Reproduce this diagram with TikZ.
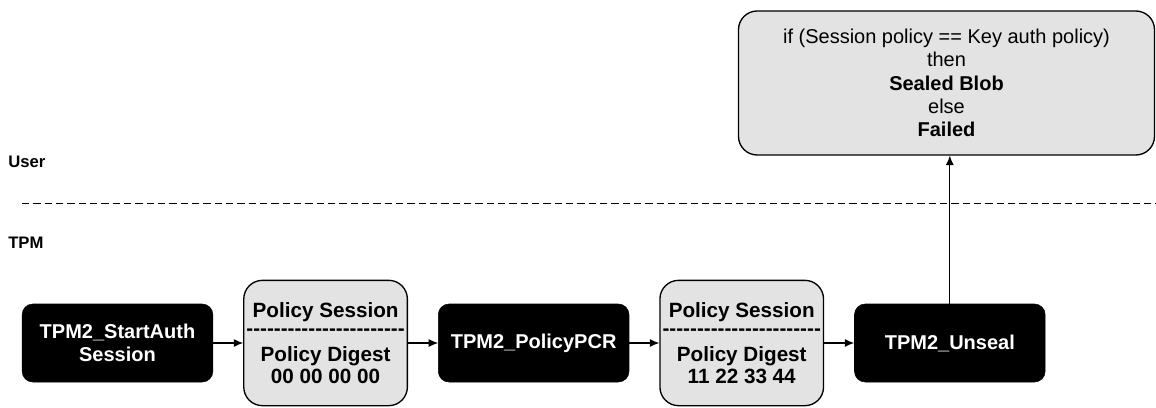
\documentclass[tikz,border=0pt]{standalone}
\usepackage{fontspec}
\setmainfont{Liberation Sans}
\usetikzlibrary{positioning,arrows.meta}
\tikzstyle{cmdnode}=[rectangle, rounded corners=8pt, fill=black, draw=black, text=white, font=\bfseries\fontsize{15}{17}\selectfont, align=center, minimum width=143pt, minimum height=58.5pt, inner sep=2pt]
\tikzstyle{sessnode}=[rectangle, rounded corners=14pt, fill=black!11, draw=black, line width=1pt, font=\bfseries\fontsize{15.5}{17}\selectfont, align=center, minimum width=122pt, minimum height=94pt, inner sep=2pt]
\tikzstyle{resnode}=[rectangle, rounded corners=14pt, fill=black!11, draw=black, line width=1pt, font=\fontsize{15}{17.5}\selectfont, align=center, minimum width=312pt, minimum height=108pt]
\tikzstyle{layer}=[font=\bfseries\fontsize{12.5}{14}\selectfont, anchor=west, inner sep=0pt]
\newcommand{\dashrow}{\foreach \i in {1,...,23}{-}}

\begin{document}
\begin{tikzpicture}[x=0.75pt, y=-0.75pt, node distance=22.5pt]
\useasboundingbox (0,0) rectangle (1156,407);
%Nodes
\node[cmdnode]     (start)   at (117.5,343)       {TPM2\_StartAuth\\Session};
\node[sessnode]    (sess1)   [right=of start]     {Policy Session\\[-3pt]\dashrow\\[2pt]Policy Digest\\00 00 00 00};
\node[cmdnode]     (pcr)     [right=of sess1]     {TPM2\_PolicyPCR};
\node[sessnode]    (sess2)   [right=of pcr]       {Policy Session\\[-3pt]\dashrow\\[2pt]Policy Digest\\11 22 33 44};
\node[cmdnode]     (unseal)  [right=of sess2]     {TPM2\_Unseal};
\node[resnode]     (result)  at (946.5,83)        {if (Session policy == Key auth policy)\\then\\\textbf{Sealed Blob}\\else\\\textbf{Failed}};
\node[layer]       (user)    at (8,162)           {User};
\node[layer]       (tpm)     at (8,243)           {TPM};
\coordinate (lineL) at (22,203);
\coordinate (lineR) at (1156,203);
%Lines
\draw[dash pattern=on 5.5pt off 3pt, line width=0.75pt] (lineL) -- (lineR);
\draw[-{Latex[length=7pt,width=6pt]}, line width=0.8pt] (start) -- (sess1);
\draw[-{Latex[length=7pt,width=6pt]}, line width=0.8pt] (sess1) -- (pcr);
\draw[-{Latex[length=7pt,width=6pt]}, line width=0.8pt] (pcr) -- (sess2);
\draw[-{Latex[length=7pt,width=6pt]}, line width=0.8pt] (sess2) -- (unseal);
\draw[-{Latex[length=7pt,width=6pt]}, line width=0.8pt] (unseal.north) -- (unseal.north |- result.south);
\end{tikzpicture}
\end{document}
